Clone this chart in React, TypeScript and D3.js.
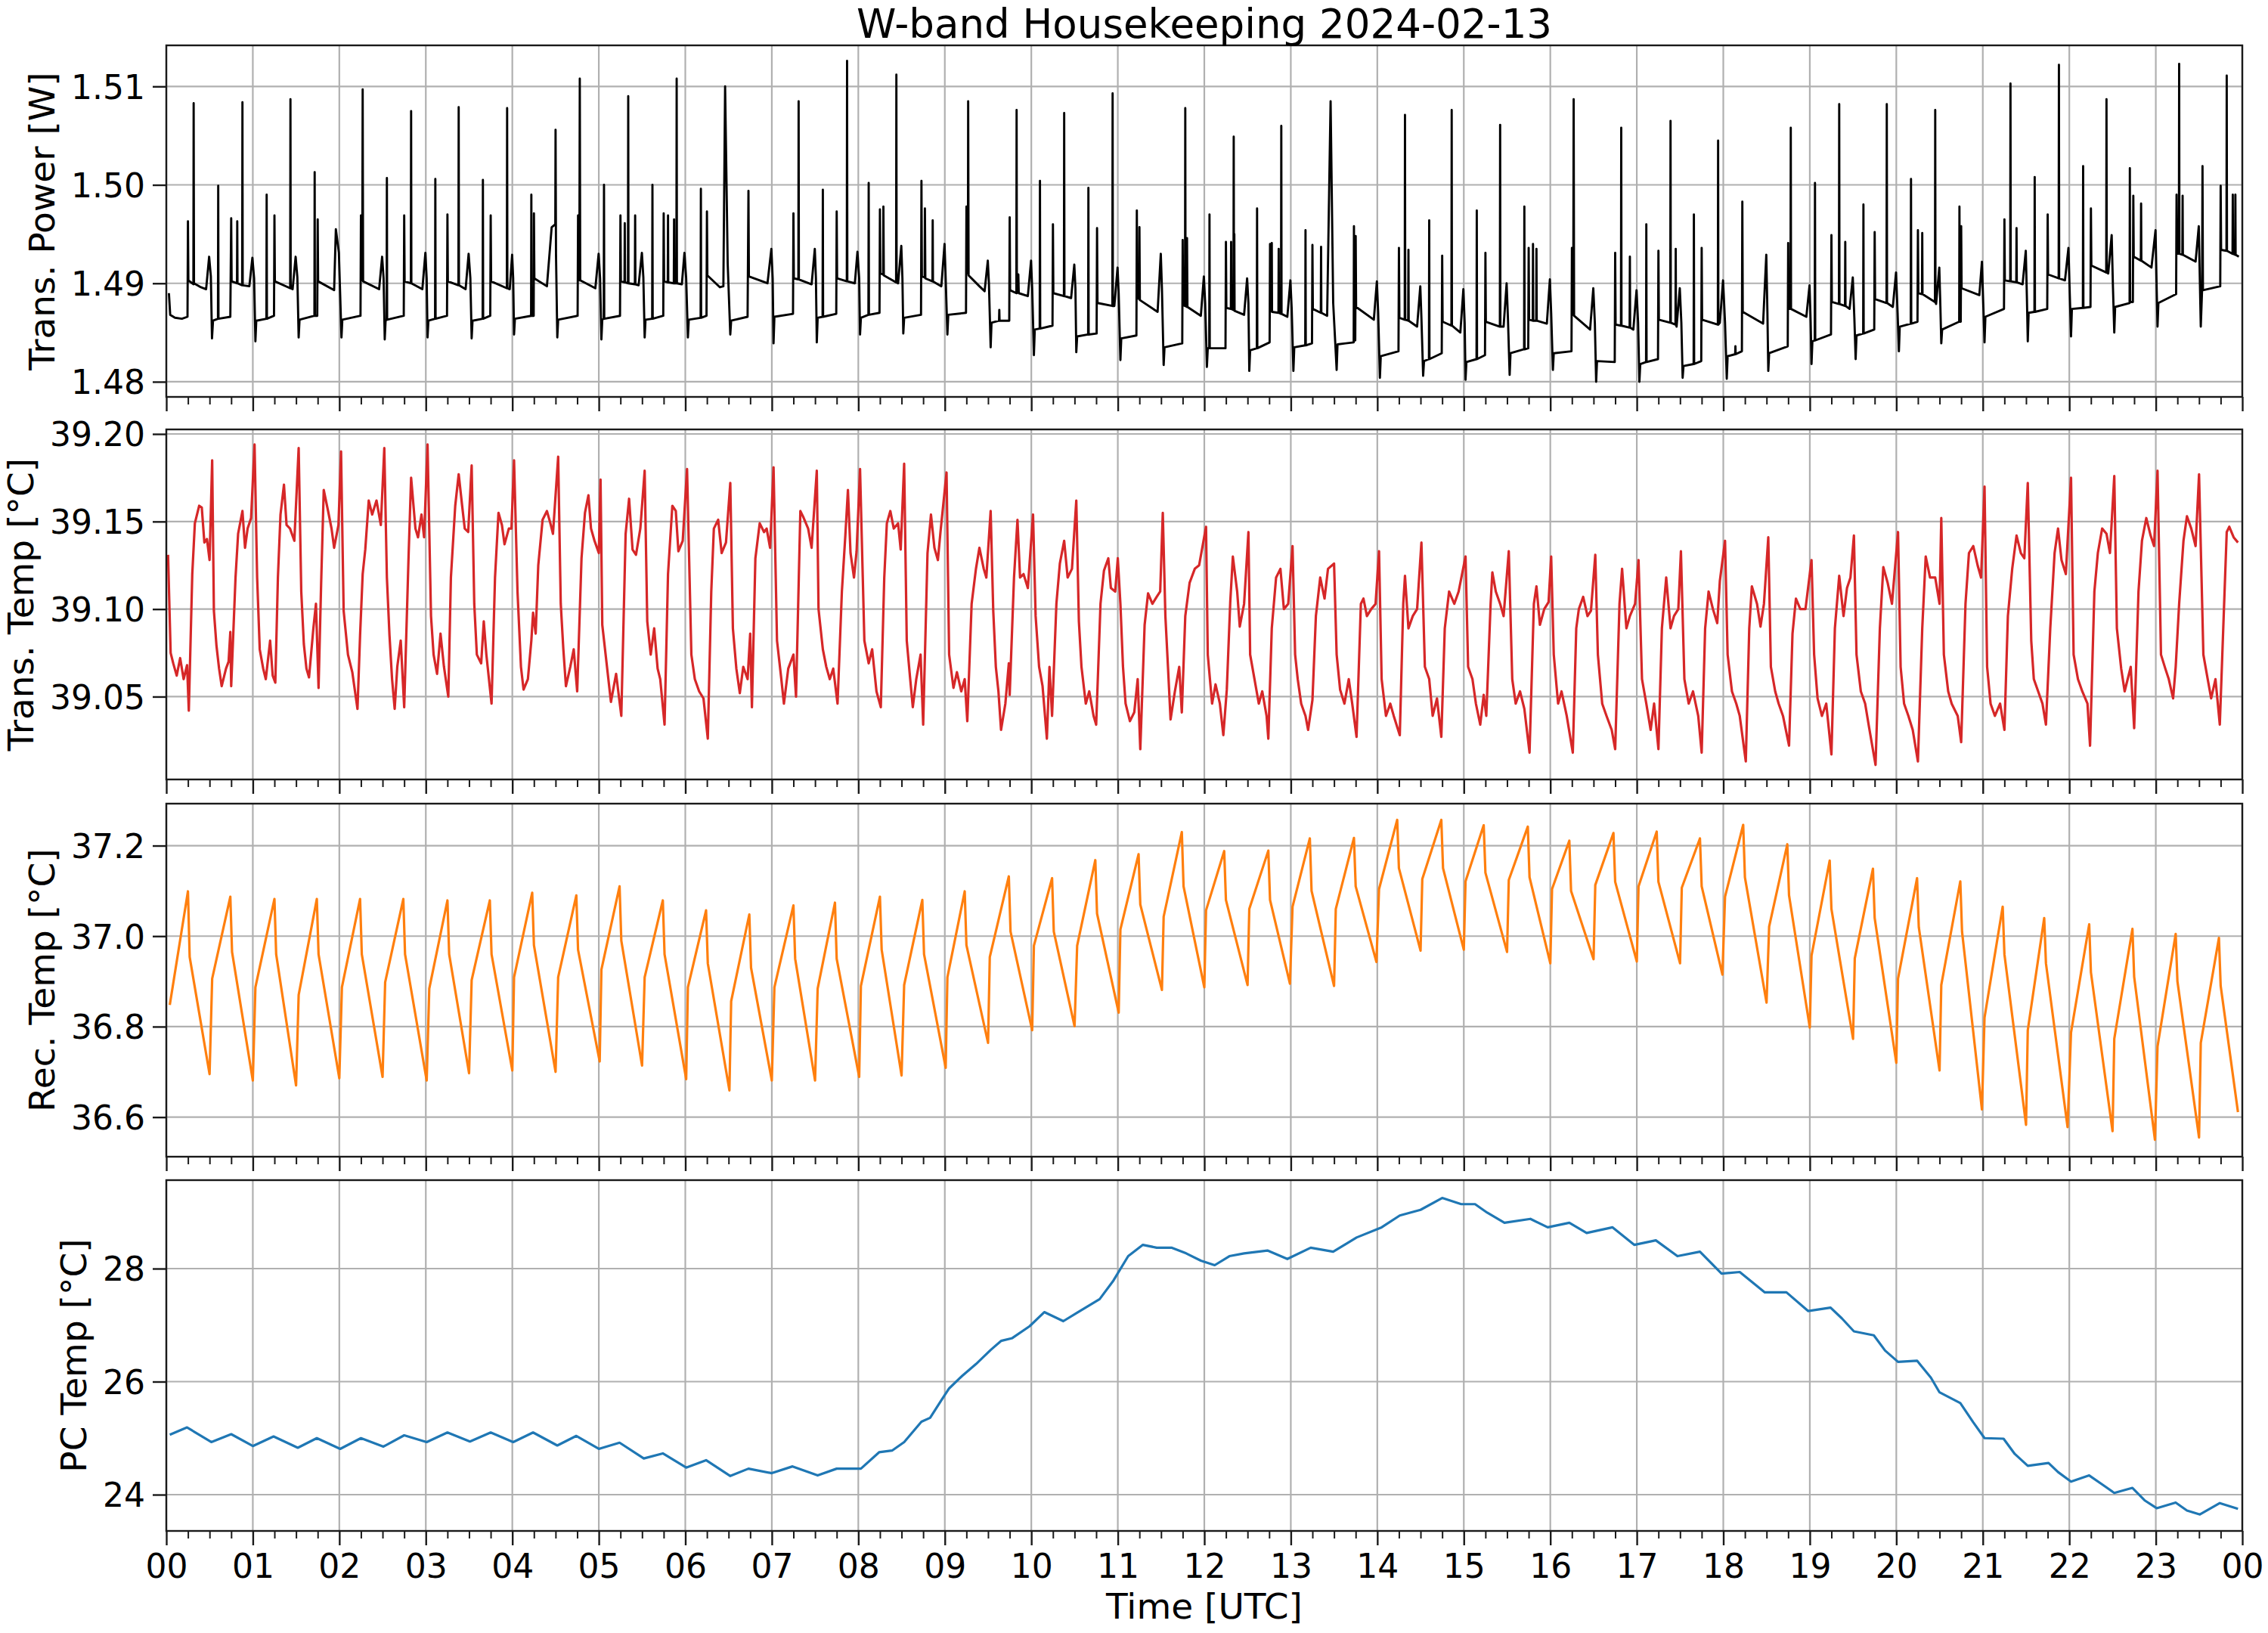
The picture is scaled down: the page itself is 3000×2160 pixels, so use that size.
import React, { useEffect, useRef } from 'react';
import * as d3 from 'd3';

type Pt = [number, number];

const TITLE = 'W-band Housekeeping 2024-02-13';
const X_LABEL = 'Time [UTC]';
const hourLabels = ['00','01','02','03','04','05','06','07','08','09','10','11','12','13','14','15','16','17','18','19','20','21','22','23','00'];
const majorHours = [0,1,2,3,4,5,6,7,8,9,10,11,12,13,14,15,16,17,18,19,20,21,22,23,24];

const powerLabel = 'Trans. Power [W]';
const powerTicks = [1.48, 1.49, 1.50, 1.51];
const powerDomain = [1.47846, 1.51417];
const transPower: Pt[] = [
[0.03,1.4890],[0.045,1.4868],[0.10,1.4865],[0.18,1.4864],[0.245,1.4866],[0.25,1.4963],[0.255,1.4903],[0.30,1.4900],[0.313,1.4899],[0.316,1.5083],[0.32,1.4900],[0.40,1.4896],[0.46,1.4894],[0.495,1.4927],[0.515,1.4907],[0.528,1.4844],[0.54,1.4862],[0.597,1.4864],[0.60,1.4999],[0.603,1.4864],[0.74,1.4866],[0.75,1.4966],[0.755,1.4902],[0.817,1.4900],[0.82,1.4963],[0.823,1.4900],[0.877,1.4898],[0.88,1.5084],[0.883,1.4898],[0.96,1.4897],[0.995,1.4926],[1.015,1.4905],[1.03,1.4841],[1.04,1.4862],
[1.157,1.4864],[1.16,1.4990],[1.163,1.4864],[1.245,1.4867],[1.25,1.4969],[1.255,1.4902],[1.432,1.4895],[1.435,1.5087],[1.438,1.4895],[1.46,1.4894],[1.495,1.4927],[1.515,1.4906],[1.53,1.4845],[1.54,1.4863],[1.712,1.4867],[1.715,1.5013],[1.718,1.4867],[1.745,1.4867],[1.75,1.4965],[1.755,1.4902],[1.94,1.4893],[1.96,1.4955],[1.995,1.4931],[2.025,1.4845],[2.035,1.4863],
[2.245,1.4867],[2.25,1.4969],[2.265,1.4903],[2.27,1.5097],[2.275,1.4902],[2.46,1.4894],[2.495,1.4927],[2.512,1.4905],[2.525,1.4843],[2.535,1.4862],[2.547,1.4863],[2.55,1.5007],[2.553,1.4863],[2.745,1.4867],[2.75,1.4969],[2.755,1.4902],[2.827,1.4900],[2.83,1.5075],[2.833,1.4900],[2.96,1.4894],[2.995,1.4931],[3.01,1.4905],[3.02,1.4845],[3.03,1.4862],
[3.107,1.4864],[3.11,1.5006],[3.113,1.4864],[3.245,1.4867],[3.25,1.4970],[3.255,1.4902],[3.377,1.4898],[3.38,1.5079],[3.383,1.4898],[3.46,1.4894],[3.495,1.4930],[3.515,1.4905],[3.53,1.4844],[3.54,1.4862],[3.657,1.4864],[3.66,1.5005],[3.663,1.4864],[3.745,1.4867],[3.75,1.4969],[3.755,1.4902],[3.937,1.4895],[3.94,1.5078],[3.943,1.4895],[3.97,1.4894],[3.998,1.4929],[4.01,1.4905],[4.02,1.4848],[4.03,1.4864],
[4.217,1.4867],[4.22,1.4990],[4.223,1.4867],[4.247,1.4867],[4.25,1.4971],[4.255,1.4905],[4.40,1.4897],[4.455,1.4957],[4.497,1.4960],[4.50,1.5056],[4.505,1.4930],[4.52,1.4845],[4.53,1.4863],[4.755,1.4867],[4.76,1.4969],[4.775,1.4903],[4.78,1.5108],[4.785,1.4903],[4.96,1.4895],[4.998,1.4930],[5.015,1.4905],[5.03,1.4843],[5.04,1.4863],
[5.057,1.4864],[5.06,1.5000],[5.063,1.4864],[5.245,1.4867],[5.25,1.4969],[5.255,1.4902],[5.297,1.4901],[5.30,1.4961],[5.303,1.4901],[5.337,1.4900],[5.34,1.5090],[5.343,1.4900],[5.417,1.4899],[5.42,1.4969],[5.423,1.4899],[5.46,1.4898],[5.498,1.4931],[5.515,1.4906],[5.53,1.4845],[5.54,1.4863],[5.617,1.4864],[5.62,1.5000],[5.623,1.4864],[5.745,1.4867],[5.75,1.4971],[5.755,1.4902],[5.797,1.4901],[5.80,1.4969],[5.803,1.4901],[5.867,1.4900],[5.87,1.4965],[5.873,1.4900],[5.897,1.4900],[5.90,1.5108],[5.903,1.4900],[5.96,1.4899],[5.99,1.4931],[6.01,1.4905],[6.03,1.4845],[6.04,1.4863],
[6.177,1.4865],[6.18,1.4996],[6.183,1.4865],[6.245,1.4867],[6.25,1.4973],[6.255,1.4908],[6.40,1.4896],[6.44,1.4897],[6.46,1.5100],[6.49,1.4920],[6.52,1.4848],[6.53,1.4862],[6.72,1.4866],[6.73,1.4994],[6.735,1.4907],[6.95,1.4900],[6.995,1.4935],[7.01,1.4905],[7.02,1.4839],[7.03,1.4866],
[7.245,1.4869],[7.25,1.4971],[7.255,1.4905],[7.307,1.4904],[7.31,1.5085],[7.313,1.4904],[7.46,1.4899],[7.497,1.4935],[7.51,1.4905],[7.52,1.4840],[7.53,1.4865],[7.587,1.4866],[7.59,1.4995],[7.593,1.4866],[7.745,1.4869],[7.75,1.4973],[7.755,1.4905],[7.867,1.4902],[7.87,1.5126],[7.873,1.4902],[7.96,1.4900],[7.99,1.4932],[8.01,1.4905],[8.02,1.4848],
[8.03,1.4865],[8.117,1.4868],[8.12,1.5002],[8.123,1.4868],[8.245,1.4870],[8.25,1.4975],[8.255,1.4910],[8.287,1.4909],[8.29,1.4978],[8.295,1.4908],[8.437,1.4901],[8.44,1.5112],[8.443,1.4901],[8.46,1.4900],[8.497,1.4938],[8.51,1.4905],[8.52,1.4849],
[8.53,1.4865],[8.725,1.4868],[8.73,1.5004],[8.735,1.4907],[8.767,1.4906],[8.77,1.4976],[8.775,1.4905],[8.857,1.4902],[8.86,1.4964],[8.863,1.4902],[8.96,1.4897],[8.997,1.4940],[9.01,1.4905],[9.03,1.4848],
[9.04,1.4868],[9.245,1.4870],[9.25,1.4978],[9.267,1.4910],[9.27,1.5085],[9.275,1.4908],[9.40,1.4897],[9.46,1.4892],[9.497,1.4923],[9.51,1.4900],[9.53,1.4835],
[9.54,1.4860],[9.627,1.4862],[9.63,1.4873],[9.633,1.4862],[9.745,1.4862],[9.75,1.4967],[9.755,1.4893],[9.827,1.4890],[9.83,1.5076],[9.833,1.4890],[9.85,1.4909],[9.855,1.4890],[9.96,1.4887],[9.997,1.4923],[10.01,1.4895],[10.03,1.4827],
[10.04,1.4853],[10.097,1.4854],[10.10,1.5004],[10.103,1.4854],[10.245,1.4857],[10.25,1.4960],[10.255,1.4890],[10.377,1.4887],[10.38,1.5073],[10.383,1.4887],[10.46,1.4885],[10.497,1.4919],[10.51,1.4895],[10.52,1.4830],
[10.53,1.4846],[10.657,1.4848],[10.66,1.4997],[10.663,1.4848],[10.755,1.4849],[10.76,1.4956],[10.765,1.4880],[10.937,1.4877],[10.94,1.5093],[10.943,1.4877],[10.96,1.4877],[10.997,1.4916],[11.01,1.4890],[11.03,1.4822],
[11.04,1.4844],[11.215,1.4847],[11.22,1.4974],[11.225,1.4885],[11.247,1.4884],[11.25,1.4957],[11.255,1.4883],[11.46,1.4871],[11.497,1.4930],[11.51,1.4895],[11.53,1.4817],
[11.54,1.4835],[11.745,1.4839],[11.75,1.4944],[11.755,1.4878],[11.777,1.4877],[11.78,1.5078],[11.783,1.4877],[11.797,1.4876],[11.80,1.4946],[11.805,1.4876],[11.96,1.4867],[11.995,1.4907],[12.01,1.4880],[12.03,1.4815],
[12.04,1.4834],[12.057,1.4834],[12.06,1.4970],[12.063,1.4834],[12.245,1.4834],[12.25,1.4942],[12.255,1.4875],[12.307,1.4874],[12.31,1.4942],[12.313,1.4874],[12.337,1.4873],[12.34,1.5049],[12.343,1.4873],[12.347,1.4950],[12.35,1.4872],[12.46,1.4868],[12.495,1.4905],[12.51,1.4880],[12.52,1.4811],
[12.53,1.4832],[12.607,1.4834],[12.61,1.4976],[12.613,1.4834],[12.755,1.4840],[12.76,1.4940],[12.765,1.4872],[12.777,1.4872],[12.78,1.4941],[12.783,1.4871],[12.857,1.4870],[12.86,1.4935],[12.863,1.4870],[12.887,1.4869],[12.89,1.5060],[12.893,1.4869],[12.96,1.4866],[12.995,1.4903],[13.01,1.4875],[13.03,1.4811],
[13.04,1.4835],[13.167,1.4837],[13.17,1.4954],[13.173,1.4837],[13.245,1.4839],[13.25,1.4939],[13.255,1.4874],[13.347,1.4870],[13.35,1.4937],[13.353,1.4870],[13.42,1.4867],[13.46,1.5085],[13.49,1.4880],[13.53,1.4812],
[13.54,1.4838],[13.727,1.4840],[13.73,1.4958],[13.733,1.4842],[13.745,1.4842],[13.75,1.4948],[13.755,1.4876],[13.96,1.4863],[13.995,1.4902],[14.01,1.4870],[14.03,1.4804],
[14.04,1.4826],[14.245,1.4831],[14.25,1.4936],[14.255,1.4865],[14.317,1.4863],[14.32,1.5071],[14.323,1.4863],[14.357,1.4862],[14.36,1.4934],[14.363,1.4862],[14.46,1.4856],[14.497,1.4897],[14.51,1.4865],[14.53,1.4806],
[14.54,1.4821],[14.597,1.4823],[14.60,1.4964],[14.603,1.4823],[14.745,1.4829],[14.75,1.4928],[14.755,1.4861],[14.857,1.4857],[14.86,1.5076],[14.863,1.4857],[14.96,1.4850],[14.995,1.4894],[15.01,1.4860],[15.02,1.4802],
[15.03,1.4820],[15.147,1.4823],[15.15,1.4974],[15.153,1.4823],[15.245,1.4827],[15.25,1.4931],[15.255,1.4861],[15.417,1.4856],[15.42,1.5061],[15.423,1.4856],[15.46,1.4856],[15.495,1.4900],[15.51,1.4865],[15.53,1.4807],
[15.54,1.4829],[15.697,1.4833],[15.70,1.4978],[15.703,1.4833],[15.745,1.4834],[15.75,1.4936],[15.755,1.4863],[15.797,1.4862],[15.80,1.4940],[15.803,1.4862],[15.837,1.4862],[15.84,1.4935],[15.843,1.4862],[15.96,1.4859],[15.995,1.4904],[16.01,1.4870],[16.03,1.4812],
[16.04,1.4829],[16.245,1.4831],[16.25,1.4936],[16.265,1.4868],[16.27,1.5087],[16.275,1.4867],[16.46,1.4853],[16.497,1.4895],[16.515,1.4860],[16.53,1.4800],
[16.54,1.4821],[16.745,1.4820],[16.75,1.4931],[16.755,1.4858],[16.817,1.4857],[16.82,1.5058],[16.823,1.4857],[16.917,1.4855],[16.92,1.4927],[16.923,1.4855],[16.96,1.4853],[16.997,1.4893],[17.015,1.4860],[17.03,1.4800],
[17.04,1.4818],[17.107,1.4820],[17.11,1.4960],[17.113,1.4820],[17.245,1.4823],[17.25,1.4933],[17.255,1.4863],[17.387,1.4860],[17.39,1.5065],[17.393,1.4860],[17.447,1.4858],[17.45,1.4935],[17.453,1.4858],[17.46,1.4856],[17.497,1.4895],[17.515,1.4860],[17.53,1.4804],
[17.54,1.4816],[17.657,1.4818],[17.66,1.4970],[17.663,1.4818],[17.745,1.4821],[17.75,1.4936],[17.755,1.4863],[17.937,1.4858],[17.94,1.5045],[17.943,1.4858],[17.96,1.4860],[17.997,1.4903],[18.02,1.4860],[18.04,1.4803],
[18.05,1.4826],[18.137,1.4828],[18.14,1.4836],[18.143,1.4828],[18.215,1.4831],[18.22,1.4983],[18.225,1.4871],[18.46,1.4859],[18.497,1.4929],[18.51,1.4870],[18.52,1.4811],
[18.53,1.4829],[18.745,1.4836],[18.75,1.4941],[18.755,1.4874],[18.777,1.4874],[18.78,1.5058],[18.783,1.4874],[18.96,1.4866],[18.997,1.4898],[19.01,1.4860],[19.02,1.4818],
[19.03,1.4841],[19.057,1.4842],[19.06,1.5002],[19.063,1.4842],[19.245,1.4848],[19.25,1.4949],[19.255,1.4881],[19.337,1.4879],[19.34,1.5082],[19.343,1.4879],[19.407,1.4877],[19.41,1.4942],[19.413,1.4877],[19.46,1.4874],[19.497,1.4906],[19.515,1.4865],[19.53,1.4823],
[19.54,1.4847],[19.617,1.4849],[19.62,1.4980],[19.623,1.4849],[19.745,1.4853],[19.75,1.4952],[19.755,1.4884],[19.887,1.4880],[19.89,1.5082],[19.893,1.4880],[19.96,1.4876],[19.997,1.4911],[20.015,1.4870],[20.03,1.4831],
[20.04,1.4856],[20.167,1.4859],[20.17,1.5006],[20.173,1.4859],[20.245,1.4861],[20.25,1.4954],[20.255,1.4890],[20.297,1.4889],[20.30,1.4951],[20.303,1.4889],[20.447,1.4881],[20.45,1.5076],[20.453,1.4881],[20.46,1.4879],[20.497,1.4916],[20.51,1.4875],[20.52,1.4839],
[20.53,1.4853],[20.727,1.4861],[20.73,1.4978],[20.735,1.4861],[20.745,1.4861],[20.75,1.4958],[20.755,1.4895],[20.96,1.4888],[20.99,1.4922],[21.005,1.4880],[21.02,1.4840],
[21.03,1.4866],[21.245,1.4874],[21.25,1.4965],[21.255,1.4903],[21.317,1.4902],[21.32,1.5103],[21.323,1.4902],[21.387,1.4901],[21.39,1.4956],[21.393,1.4901],[21.46,1.4899],[21.497,1.4933],[21.51,1.4885],[21.52,1.4841],
[21.53,1.4870],[21.597,1.4871],[21.60,1.5008],[21.603,1.4871],[21.745,1.4874],[21.75,1.4970],[21.755,1.4909],[21.877,1.4905],[21.88,1.5122],[21.883,1.4905],[21.95,1.4903],[21.99,1.4936],[22.005,1.4890],[22.02,1.4846],
[22.03,1.4874],[22.157,1.4875],[22.16,1.5019],[22.163,1.4875],[22.245,1.4876],[22.25,1.4976],[22.255,1.4918],[22.427,1.4911],[22.43,1.5087],[22.433,1.4911],[22.45,1.4910],[22.49,1.4949],[22.505,1.4895],[22.52,1.4850],
[22.53,1.4876],[22.697,1.4880],[22.70,1.5017],[22.703,1.4881],[22.735,1.4881],[22.74,1.4989],[22.745,1.4927],[22.827,1.4923],[22.83,1.4981],[22.833,1.4923],[22.95,1.4916],[22.997,1.4954],[23.01,1.4895],[23.02,1.4856],
[23.03,1.4880],[23.235,1.4889],[23.24,1.4990],[23.245,1.4930],[23.267,1.4930],[23.27,1.5123],[23.273,1.4930],[23.307,1.4929],[23.31,1.4989],[23.313,1.4929],[23.46,1.4922],[23.497,1.4958],[23.51,1.4900],[23.52,1.4856],[23.535,1.4893],[23.54,1.5019],[23.545,1.4893],
[23.745,1.4897],[23.75,1.4999],[23.755,1.4934],[23.817,1.4933],[23.82,1.5111],[23.823,1.4933],[23.887,1.4930],[23.89,1.4990],[23.893,1.4930],[23.917,1.4929],[23.92,1.4990],[23.923,1.4929],[23.96,1.4927]
];

const transTempLabel = 'Trans. Temp [°C]';
const transTempTicks = [39.05, 39.10, 39.15, 39.20];
const transTempDomain = [39.0027, 39.2026];
const transTemp: Pt[] = [
[0.02,39.131],[0.05,39.075],[0.08,39.069],[0.12,39.062],[0.16,39.072],[0.20,39.060],[0.24,39.068],[0.26,39.042],[0.30,39.120],[0.33,39.149],[0.38,39.159],[0.41,39.158],[0.44,39.138],[0.47,39.140],[0.50,39.128],[0.53,39.185],[0.55,39.099],[0.58,39.079],[0.61,39.066],[0.64,39.056],[0.69,39.066],[0.72,39.070],[0.74,39.087],[0.75,39.056],
[0.80,39.118],[0.83,39.143],[0.88,39.156],[0.91,39.135],[0.94,39.146],[0.98,39.152],[1.02,39.194],[1.05,39.118],[1.08,39.077],[1.12,39.066],[1.15,39.060],[1.20,39.082],[1.23,39.062],[1.26,39.058],
[1.29,39.118],[1.32,39.154],[1.36,39.171],[1.39,39.148],[1.43,39.146],[1.48,39.139],[1.53,39.192],[1.56,39.110],[1.59,39.080],[1.62,39.066],[1.65,39.061],[1.70,39.089],[1.73,39.103],[1.76,39.055],
[1.79,39.115],[1.82,39.168],[1.87,39.156],[1.91,39.146],[1.94,39.135],[1.99,39.148],[2.02,39.190],[2.05,39.099],[2.10,39.074],[2.15,39.064],[2.21,39.043],[2.24,39.085],
[2.27,39.120],[2.30,39.134],[2.34,39.162],[2.38,39.154],[2.43,39.162],[2.48,39.148],[2.52,39.192],[2.55,39.118],[2.58,39.085],[2.61,39.060],[2.64,39.043],[2.67,39.067],[2.71,39.082],[2.75,39.044],
[2.80,39.129],[2.83,39.175],[2.88,39.146],[2.91,39.141],[2.95,39.154],[2.98,39.141],[3.02,39.194],[3.06,39.096],[3.09,39.074],[3.13,39.063],[3.17,39.086],[3.21,39.067],[3.26,39.050],
[3.29,39.118],[3.34,39.159],[3.38,39.177],[3.42,39.159],[3.45,39.146],[3.49,39.144],[3.53,39.182],[3.56,39.103],[3.59,39.074],[3.64,39.069],[3.67,39.093],[3.70,39.074],[3.73,39.060],[3.76,39.046],
[3.80,39.118],[3.84,39.155],[3.88,39.148],[3.91,39.137],[3.96,39.146],[3.99,39.146],[4.02,39.185],[4.06,39.110],[4.10,39.067],[4.13,39.054],[4.18,39.060],[4.22,39.082],[4.24,39.098],[4.27,39.086],
[4.30,39.125],[4.35,39.151],[4.40,39.156],[4.44,39.149],[4.47,39.143],[4.53,39.187],[4.56,39.103],[4.59,39.077],[4.62,39.056],[4.67,39.067],[4.71,39.077],[4.75,39.053],
[4.80,39.129],[4.84,39.155],[4.88,39.165],[4.91,39.146],[4.95,39.139],[5.00,39.132],[5.02,39.174],[5.04,39.091],[5.09,39.069],[5.14,39.047],[5.20,39.063],[5.26,39.039],
[5.31,39.143],[5.35,39.163],[5.39,39.134],[5.43,39.131],[5.48,39.146],[5.53,39.179],[5.56,39.093],[5.60,39.074],[5.64,39.089],[5.68,39.066],[5.71,39.060],[5.76,39.034],
[5.80,39.120],[5.85,39.159],[5.89,39.156],[5.92,39.133],[5.97,39.139],[6.02,39.180],[6.07,39.074],[6.11,39.060],[6.16,39.053],[6.21,39.049],[6.26,39.026],
[6.30,39.110],[6.33,39.146],[6.38,39.151],[6.42,39.132],[6.47,39.138],[6.52,39.172],[6.55,39.089],[6.59,39.066],[6.63,39.052],[6.67,39.067],[6.72,39.060],[6.75,39.086],[6.77,39.044],
[6.81,39.129],[6.86,39.149],[6.91,39.144],[6.94,39.146],[6.98,39.135],[7.02,39.181],[7.06,39.082],[7.11,39.060],[7.14,39.046],[7.19,39.066],[7.25,39.074],[7.28,39.050],
[7.33,39.156],[7.36,39.153],[7.42,39.146],[7.46,39.135],[7.52,39.179],[7.54,39.100],[7.59,39.077],[7.63,39.067],[7.67,39.060],[7.71,39.066],[7.76,39.046],
[7.81,39.110],[7.85,39.142],[7.88,39.168],[7.91,39.132],[7.95,39.118],[7.98,39.133],[8.02,39.180],[8.07,39.082],[8.12,39.069],[8.16,39.077],[8.21,39.053],[8.26,39.044],
[8.30,39.118],[8.33,39.149],[8.37,39.156],[8.41,39.146],[8.46,39.149],[8.49,39.134],[8.53,39.183],[8.56,39.082],[8.60,39.060],[8.63,39.044],[8.67,39.060],[8.72,39.074],[8.75,39.034],
[8.80,39.132],[8.84,39.154],[8.88,39.135],[8.92,39.128],[8.95,39.144],[9.02,39.178],[9.05,39.074],[9.10,39.055],[9.14,39.064],[9.19,39.053],[9.23,39.060],[9.26,39.036],
[9.31,39.103],[9.36,39.123],[9.40,39.135],[9.45,39.123],[9.48,39.118],[9.53,39.156],[9.56,39.099],[9.59,39.067],[9.62,39.053],[9.65,39.031],[9.70,39.046],[9.74,39.069],[9.75,39.051],
[9.80,39.118],[9.84,39.151],[9.87,39.118],[9.91,39.120],[9.96,39.112],[10.02,39.154],[10.05,39.096],[10.09,39.067],[10.13,39.056],[10.18,39.026],[10.21,39.067],[10.24,39.039],
[10.29,39.103],[10.33,39.126],[10.38,39.139],[10.42,39.118],[10.47,39.123],[10.52,39.162],[10.55,39.093],[10.58,39.067],[10.63,39.046],[10.67,39.053],[10.72,39.039],[10.75,39.034],
[10.80,39.103],[10.84,39.122],[10.89,39.129],[10.92,39.112],[10.97,39.110],[11.00,39.129],[11.03,39.103],[11.06,39.067],[11.09,39.046],[11.14,39.036],[11.19,39.041],[11.23,39.060],[11.26,39.020],
[11.31,39.091],[11.35,39.109],[11.40,39.103],[11.45,39.107],[11.49,39.110],[11.52,39.155],[11.55,39.096],[11.58,39.067],[11.61,39.037],[11.66,39.053],[11.71,39.067],[11.74,39.041],
[11.78,39.096],[11.83,39.115],[11.89,39.123],[11.94,39.125],[12.02,39.147],[12.04,39.074],[12.09,39.046],[12.13,39.057],[12.18,39.046],[12.22,39.028],[12.26,39.054],
[12.30,39.104],[12.33,39.130],[12.38,39.110],[12.41,39.090],[12.46,39.103],[12.51,39.144],[12.53,39.074],[12.58,39.060],[12.63,39.046],[12.67,39.053],[12.72,39.039],[12.74,39.026],
[12.78,39.089],[12.83,39.118],[12.88,39.123],[12.92,39.100],[12.97,39.103],[13.02,39.136],[13.05,39.074],[13.08,39.060],[13.12,39.046],[13.17,39.039],[13.20,39.031],[13.25,39.048],
[13.29,39.096],[13.34,39.118],[13.39,39.106],[13.43,39.123],[13.50,39.126],[13.53,39.074],[13.57,39.054],[13.62,39.046],[13.67,39.060],[13.71,39.046],[13.76,39.027],
[13.81,39.103],[13.84,39.106],[13.88,39.096],[13.93,39.100],[13.98,39.103],[14.02,39.133],[14.05,39.060],[14.10,39.039],[14.15,39.046],[14.19,39.039],[14.26,39.028],
[14.30,39.103],[14.32,39.119],[14.36,39.089],[14.41,39.096],[14.46,39.100],[14.51,39.138],[14.55,39.067],[14.60,39.060],[14.64,39.039],[14.69,39.049],[14.74,39.027],
[14.78,39.089],[14.83,39.110],[14.89,39.103],[14.94,39.110],[15.02,39.130],[15.05,39.067],[15.10,39.060],[15.14,39.046],[15.19,39.034],[15.23,39.051],[15.26,39.039],
[15.31,39.103],[15.33,39.121],[15.37,39.110],[15.42,39.103],[15.46,39.096],[15.52,39.133],[15.56,39.060],[15.60,39.046],[15.65,39.053],[15.70,39.043],[15.76,39.018],
[15.81,39.103],[15.84,39.113],[15.88,39.091],[15.93,39.100],[15.98,39.104],[16.01,39.130],[16.04,39.074],[16.09,39.046],[16.13,39.053],[16.19,39.039],[16.26,39.018],
[16.30,39.089],[16.33,39.100],[16.38,39.107],[16.43,39.096],[16.47,39.099],[16.52,39.131],[16.55,39.074],[16.60,39.046],[16.65,39.039],[16.71,39.031],[16.75,39.020],
[16.80,39.103],[16.83,39.123],[16.88,39.089],[16.92,39.096],[16.98,39.103],[17.02,39.128],[17.06,39.060],[17.11,39.046],[17.16,39.031],[17.20,39.046],[17.25,39.020],
[17.29,39.089],[17.34,39.118],[17.39,39.089],[17.43,39.096],[17.48,39.100],[17.51,39.133],[17.55,39.060],[17.60,39.046],[17.65,39.053],[17.71,39.039],[17.75,39.018],
[17.79,39.089],[17.83,39.110],[17.88,39.100],[17.93,39.092],[17.96,39.116],[18.02,39.139],[18.05,39.074],[18.10,39.053],[18.15,39.046],[18.19,39.039],[18.26,39.013],
[18.30,39.089],[18.33,39.113],[18.39,39.103],[18.43,39.090],[18.47,39.103],[18.52,39.141],[18.55,39.067],[18.60,39.053],[18.64,39.046],[18.69,39.039],[18.76,39.022],
[18.80,39.086],[18.84,39.106],[18.89,39.100],[18.95,39.100],[19.02,39.128],[19.05,39.074],[19.09,39.049],[19.14,39.039],[19.19,39.046],[19.25,39.017],
[19.29,39.089],[19.34,39.119],[19.39,39.096],[19.43,39.112],[19.47,39.118],[19.51,39.142],[19.54,39.074],[19.59,39.053],[19.64,39.046],[19.68,39.034],[19.76,39.011],
[19.81,39.089],[19.85,39.124],[19.90,39.115],[19.95,39.103],[20.02,39.144],[20.05,39.067],[20.09,39.046],[20.14,39.039],[20.19,39.031],[20.25,39.013],
[20.30,39.089],[20.34,39.130],[20.39,39.118],[20.45,39.118],[20.50,39.103],[20.52,39.152],[20.55,39.074],[20.60,39.053],[20.64,39.046],[20.71,39.039],[20.75,39.024],
[20.80,39.103],[20.84,39.132],[20.89,39.136],[20.94,39.125],[20.98,39.118],[21.02,39.170],[21.05,39.067],[21.09,39.046],[21.14,39.039],[21.20,39.046],[21.25,39.031],
[21.29,39.096],[21.34,39.123],[21.39,39.142],[21.44,39.132],[21.48,39.129],[21.52,39.172],[21.56,39.082],[21.59,39.060],[21.64,39.053],[21.69,39.046],[21.73,39.034],
[21.78,39.089],[21.83,39.132],[21.87,39.146],[21.91,39.128],[21.96,39.120],[22.02,39.175],[22.05,39.074],[22.10,39.060],[22.15,39.053],[22.21,39.046],[22.24,39.022],
[22.29,39.110],[22.33,39.132],[22.38,39.146],[22.43,39.143],[22.47,39.132],[22.52,39.176],[22.55,39.089],[22.60,39.066],[22.64,39.053],[22.71,39.067],[22.75,39.032],
[22.80,39.110],[22.84,39.139],[22.89,39.152],[22.94,39.142],[22.98,39.136],[23.02,39.179],[23.06,39.074],[23.11,39.066],[23.15,39.060],[23.20,39.049],[23.23,39.067],
[23.27,39.103],[23.32,39.139],[23.36,39.153],[23.41,39.146],[23.46,39.136],[23.50,39.177],[23.55,39.074],[23.60,39.060],[23.64,39.049],[23.69,39.060],[23.74,39.034],
[23.79,39.103],[23.82,39.144],[23.85,39.147],[23.90,39.141],[23.95,39.138]
];

const recTempLabel = 'Rec. Temp [°C]';
const recTempTicks = [36.6, 36.8, 37.0, 37.2];
const recTempDomain = [36.5125, 37.2928];
const recTemp: Pt[] = [
[0.04,36.848],[0.25,37.099],[0.27,36.954],[0.50,36.695],
[0.53,36.906],[0.74,37.087],[0.76,36.965],[1.00,36.681],
[1.03,36.887],[1.25,37.082],[1.27,36.960],[1.50,36.670],
[1.53,36.870],[1.74,37.082],[1.76,36.960],[2.00,36.686],
[2.03,36.887],[2.24,37.082],[2.26,36.960],[2.50,36.689],
[2.53,36.898],[2.74,37.082],[2.76,36.960],[3.01,36.681],
[3.04,36.884],[3.25,37.079],[3.27,36.960],[3.50,36.697],
[3.53,36.903],[3.74,37.079],[3.76,36.960],[4.00,36.703],
[4.02,36.909],[4.23,37.096],[4.25,36.980],[4.50,36.700],
[4.53,36.909],[4.74,37.090],[4.76,36.970],[5.01,36.723],
[5.03,36.926],[5.24,37.110],[5.26,36.990],[5.50,36.714],
[5.53,36.909],[5.74,37.079],[5.76,36.960],[6.01,36.684],
[6.03,36.887],[6.24,37.057],[6.26,36.940],[6.51,36.659],
[6.53,36.856],[6.74,37.048],[6.76,36.930],[7.00,36.681],
[7.03,36.887],[7.25,37.068],[7.27,36.950],[7.50,36.681],
[7.53,36.884],[7.73,37.074],[7.75,36.950],[8.01,36.689],
[8.03,36.890],[8.25,37.087],[8.27,36.970],[8.50,36.692],
[8.53,36.892],[8.74,37.080],[8.76,36.960],[9.01,36.709],
[9.03,36.909],[9.23,37.099],[9.25,36.980],[9.50,36.764],
[9.52,36.954],[9.74,37.132],[9.76,37.010],[10.01,36.792],
[10.03,36.979],[10.24,37.128],[10.26,37.010],[10.50,36.801],
[10.53,36.979],[10.74,37.168],[10.76,37.050],[11.01,36.831],
[11.03,37.015],[11.24,37.181],[11.26,37.070],[11.51,36.881],
[11.53,37.043],[11.74,37.230],[11.76,37.110],[12.00,36.887],
[12.02,37.057],[12.23,37.188],[12.25,37.080],[12.50,36.892],
[12.52,37.060],[12.74,37.189],[12.76,37.080],[12.99,36.895],
[13.02,37.065],[13.22,37.216],[13.24,37.100],[13.50,36.890],
[13.52,37.060],[13.73,37.217],[13.75,37.110],[13.99,36.943],
[14.02,37.104],[14.23,37.257],[14.25,37.150],[14.50,36.968],
[14.52,37.126],[14.74,37.257],[14.76,37.150],[15.00,36.970],
[15.02,37.121],[15.23,37.245],[15.25,37.140],[15.50,36.965],
[15.52,37.124],[15.74,37.242],[15.76,37.130],[16.00,36.940],
[16.02,37.104],[16.22,37.211],[16.24,37.100],[16.50,36.949],
[16.52,37.113],[16.73,37.228],[16.75,37.120],[17.00,36.944],
[17.02,37.110],[17.23,37.231],[17.25,37.120],[17.50,36.940],
[17.52,37.107],[17.73,37.216],[17.75,37.110],[17.99,36.915],
[18.02,37.087],[18.23,37.246],[18.25,37.130],[18.50,36.853],
[18.53,37.021],[18.74,37.203],[18.76,37.090],[19.00,36.798],
[19.02,36.957],[19.23,37.167],[19.25,37.060],[19.50,36.773],
[19.52,36.951],[19.73,37.149],[19.75,37.040],[20.00,36.720],
[20.02,36.906],[20.24,37.128],[20.26,37.020],[20.50,36.703],
[20.52,36.892],[20.74,37.121],[20.76,37.010],[20.99,36.617],
[21.02,36.820],[21.23,37.065],[21.25,36.960],[21.50,36.583],
[21.52,36.792],[21.71,37.040],[21.73,36.940],[21.98,36.578],
[22.02,36.787],[22.23,37.026],[22.25,36.920],[22.50,36.569],
[22.52,36.773],[22.73,37.016],[22.75,36.910],[22.99,36.550],
[23.02,36.756],[23.23,37.005],[23.25,36.900],[23.50,36.555],
[23.52,36.764],[23.73,36.996],[23.75,36.890],[23.95,36.611]
];

const pcTempLabel = 'PC Temp [°C]';
const pcTempTicks = [24, 26, 28];
const pcTempDomain = [23.358, 29.565];
const pcTemp: Pt[] = [
[0.04,25.06],[0.24,25.19],[0.52,24.93],[0.75,25.07],[1.00,24.86],[1.24,25.03],[1.52,24.83],[1.74,25.00],[2.01,24.81],[2.25,25.00],[2.51,24.85],[2.75,25.05],[3.01,24.93],[3.25,25.10],[3.51,24.94],[3.75,25.10],[4.01,24.93],[4.24,25.10],[4.52,24.87],[4.74,25.04],[5.00,24.81],[5.24,24.92],[5.52,24.64],[5.74,24.73],[6.01,24.48],[6.24,24.61],[6.52,24.33],[6.73,24.46],
[7.00,24.38],[7.24,24.50],[7.53,24.34],[7.75,24.46],[8.03,24.46],[8.24,24.75],[8.39,24.78],[8.53,24.93],[8.73,25.29],[8.83,25.36],[8.96,25.67],[9.05,25.88],[9.20,26.10],[9.36,26.31],[9.53,26.56],[9.65,26.72],[9.78,26.77],[9.98,26.98],[10.15,27.23],[10.37,27.07],[10.54,27.23],[10.79,27.46],[10.95,27.79],[11.12,28.22],[11.29,28.42],[11.45,28.37],[11.62,28.37],[11.79,28.27],[11.96,28.14],[12.12,28.06],[12.29,28.22],[12.46,28.27],[12.73,28.32],[12.96,28.17],[13.23,28.37],[13.49,28.30],[13.76,28.55],[14.05,28.73],[14.26,28.94],[14.50,29.04],[14.75,29.25],[14.97,29.14],[15.13,29.14],[15.27,28.99],[15.47,28.81],[15.77,28.88],[15.97,28.73],[16.22,28.81],[16.42,28.63],[16.72,28.73],[16.97,28.42],[17.22,28.50],[17.47,28.22],[17.73,28.30],[17.98,27.91],[18.19,27.94],[18.48,27.58],[18.73,27.58],[18.98,27.25],
[19.24,27.31],[19.37,27.12],[19.51,26.89],[19.74,26.82],[19.87,26.55],[20.02,26.35],[20.24,26.37],[20.40,26.07],[20.50,25.81],[20.74,25.62],[20.89,25.28],[21.02,25.00],[21.24,24.99],[21.37,24.72],[21.52,24.51],[21.76,24.56],[21.87,24.40],[22.02,24.23],[22.23,24.34],[22.39,24.17],[22.52,24.03],[22.73,24.12],[22.87,23.90],[23.01,23.76],[23.23,23.86],[23.36,23.72],[23.51,23.65],[23.74,23.85],[23.95,23.75]
];

const seriesColors = ['#000000', '#d62728', '#ff7f0e', '#1f77b4'];

const W = 3000;
const H = 2160;
const LEFT = 220;
const RIGHT = 2966;
const TOPS = [60, 568, 1063, 1561];
const BOTTOMS = [525, 1031, 1530, 2025];
const FONT = "'DejaVu Sans', 'Liberation Sans', sans-serif";
const AXIS_COLOR = '#1a1a1a';

export default function App() {
  const ref = useRef<SVGSVGElement | null>(null);

  useEffect(() => {
    const svgEl = ref.current;
    if (!svgEl) return;
    const svg = d3.select(svgEl);
    svg.selectAll('*').remove();

    svg.append('rect').attr('x', 0).attr('y', 0).attr('width', W).attr('height', H).attr('fill', '#ffffff');
    const defs = svg.append('defs');

    const panels = [
      { label: powerLabel, data: transPower, ticks: powerTicks, domain: powerDomain, fmt: d3.format('.2f'), lw: 2.9 },
      { label: transTempLabel, data: transTemp, ticks: transTempTicks, domain: transTempDomain, fmt: d3.format('.2f'), lw: 3.2 },
      { label: recTempLabel, data: recTemp, ticks: recTempTicks, domain: recTempDomain, fmt: d3.format('.1f'), lw: 3.2 },
      { label: pcTempLabel, data: pcTemp, ticks: pcTempTicks, domain: pcTempDomain, fmt: d3.format('d'), lw: 3.2 },
    ];

    const x = d3.scaleLinear().domain([0, 24]).range([LEFT, RIGHT]);
    const minorHours = d3.range(0, 96).filter((i) => i % 4 !== 0).map((i) => i / 4);

    panels.forEach((p, i) => {
      const top = TOPS[i];
      const bottom = BOTTOMS[i];
      const y = d3.scaleLinear().domain(p.domain).range([bottom, top]);
      const g = svg.append('g');
      const clipId = `clip-panel-${i}`;
      defs.append('clipPath').attr('id', clipId)
        .append('rect').attr('x', LEFT).attr('y', top).attr('width', RIGHT - LEFT).attr('height', bottom - top);

      const grid = g.append('g').attr('stroke', '#b0b0b0').attr('stroke-width', 2.2);
      grid.selectAll('line.vx').data(majorHours).enter().append('line')
        .attr('x1', (d) => x(d)).attr('x2', (d) => x(d)).attr('y1', top).attr('y2', bottom);
      grid.selectAll('line.hy').data(p.ticks).enter().append('line')
        .attr('x1', LEFT).attr('x2', RIGHT).attr('y1', (d) => y(d)).attr('y2', (d) => y(d));

      const line = d3.line<Pt>().x((d) => x(d[0])).y((d) => y(d[1]));
      g.append('path').datum(p.data)
        .attr('d', line)
        .attr('fill', 'none')
        .attr('stroke', seriesColors[i])
        .attr('stroke-width', p.lw)
        .attr('stroke-linejoin', 'round')
        .attr('clip-path', `url(#${clipId})`);

      g.append('rect').attr('x', LEFT).attr('y', top).attr('width', RIGHT - LEFT).attr('height', bottom - top)
        .attr('fill', 'none').attr('stroke', AXIS_COLOR).attr('stroke-width', 2.4);

      const isLast = i === panels.length - 1;
      const xAxis = d3.axisBottom(x).tickValues(majorHours).tickSize(19).tickPadding(12)
        .tickFormat((_d, k) => (isLast ? hourLabels[k] : ''));
      const xg = g.append('g').attr('transform', `translate(0,${bottom})`).call(xAxis);
      xg.select('.domain').remove();
      xg.selectAll('line').attr('stroke', AXIS_COLOR).attr('stroke-width', 2.4);
      xg.selectAll('text').attr('font-size', 44).attr('font-family', FONT).attr('fill', '#000');
      const xMinor = d3.axisBottom(x).tickValues(minorHours).tickSize(10).tickFormat(() => '');
      const xmg = g.append('g').attr('transform', `translate(0,${bottom})`).call(xMinor);
      xmg.select('.domain').remove();
      xmg.selectAll('line').attr('stroke', AXIS_COLOR).attr('stroke-width', 2.0);

      const yAxis = d3.axisLeft(y).tickValues(p.ticks).tickSize(18).tickPadding(10)
        .tickFormat((d) => p.fmt(d as number));
      const yg = g.append('g').attr('transform', `translate(${LEFT},0)`).call(yAxis);
      yg.select('.domain').remove();
      yg.selectAll('line').attr('stroke', AXIS_COLOR).attr('stroke-width', 2.4);
      yg.selectAll('text').attr('font-size', 44).attr('font-family', FONT).attr('fill', '#000').attr('dy', '0.36em');

      let minX = LEFT - 130;
      try {
        const bb = (yg.node() as SVGGElement).getBBox();
        minX = bb.x + LEFT;
      } catch (e) { /* ignore */ }
      const labelX = minX - 22;
      const yc = (top + bottom) / 2;
      g.append('text')
        .attr('transform', `translate(${labelX},${yc}) rotate(-90)`)
        .attr('text-anchor', 'middle')
        .attr('font-size', 47)
        .attr('font-family', FONT)
        .attr('fill', '#000')
        .text(p.label);
    });

    svg.append('text')
      .attr('x', (LEFT + RIGHT) / 2).attr('y', 50)
      .attr('text-anchor', 'middle').attr('font-size', 53).attr('font-family', FONT).attr('fill', '#000')
      .text(TITLE);

    svg.append('text')
      .attr('x', (LEFT + RIGHT) / 2).attr('y', 2141)
      .attr('text-anchor', 'middle').attr('font-size', 47).attr('font-family', FONT).attr('fill', '#000')
      .text(X_LABEL);
  }, []);

  return (
    <svg
      ref={ref}
      width={W}
      height={H}
      viewBox={`0 0 ${W} ${H}`}
      style={{ position: 'absolute', left: 0, top: 0, display: 'block', background: '#fff' }}
    />
  );
}
